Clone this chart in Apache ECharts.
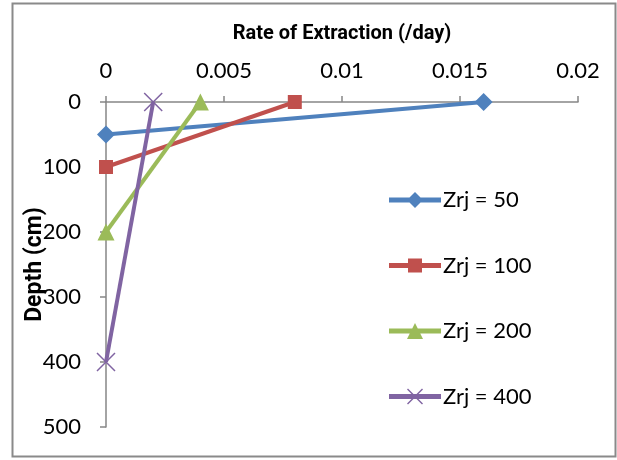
<!DOCTYPE html>
<html>
<head>
<meta charset="utf-8">
<script src="https://cdn.jsdelivr.net/npm/echarts@6/dist/echarts.min.js"></script>
<style>
  html, body { margin: 0; padding: 0; background: #fff; }
  #chart { width: 617px; height: 460px; }
</style>
</head>
<body>
<div id="chart"></div>
<script>
// Extraction rate (/day) at the surface and the root-zone depth (cm) for each Zrj
const seriesNames = ['Zrj = 50', 'Zrj = 100', 'Zrj = 200', 'Zrj = 400'];
const rates = [
  [0.016, 0],
  [0.008, 0],
  [0.004, 0],
  [0.002, 0]
];
const depths = [
  [0, 50],
  [0, 100],
  [0, 200],
  [0, 400]
];
const colors = ['#4F81BD', '#C0504D', '#9BBB59', '#8064A2'];
const symbols = ['diamond', 'rect', 'triangle', 'path://M0,0 L10,10 M10,0 L0,10'];
const symbolSizes = [18, 14, 17, 18];

// Legend keys: a thick 54x16 line with the series marker in the middle.
// The tiny corner subpaths pin the icon box to 54x16 so it is not stretched.
const keyBar = 'M1,5.5 L53,5.5 L53,10.5 L1,10.5 Z ';
const keyPins = 'M0,0 L0.01,0 L0,0.01 Z M54,16 L53.99,16 L54,15.99 Z ';
const legendIcons = [
  'path://' + keyPins + keyBar + 'M27,0 L35,8 L27,16 L19,8 Z',
  'path://' + keyPins + keyBar + 'M20,1 L34,1 L34,15 L20,15 Z',
  'path://' + keyPins + keyBar + 'M27,0 L35,16 L19,16 Z',
  'path://' + keyPins + keyBar + 'M19,1 L20,0 L35,15 L34,16 Z M34,0 L35,1 L20,16 L19,15 Z'
];

const font = 'Lato, "Open Sans", sans-serif';
const nameFont = 'Roboto, "Open Sans", sans-serif';
const axisGrey = '#868686';

const series = seriesNames.map((name, i) => {
  const isCross = i === 3;
  return {
    name: name,
    type: 'line',
    data: rates[i].map((r, k) => [r, depths[i][k]]),
    symbol: symbols[i],
    symbolSize: symbolSizes[i],
    showAllSymbol: true,
    lineStyle: { color: colors[i], width: 4 },
    itemStyle: isCross
      ? { color: 'none', borderColor: colors[i], borderWidth: 1.5 }
      : { color: colors[i], borderColor: colors[i], borderWidth: 0 },
    emphasis: { disabled: true },
    animation: false
  };
});

const chart = echarts.init(document.getElementById('chart'), null, { renderer: 'canvas' });
chart.setOption({
  backgroundColor: '#fff',
  animation: false,
  grid: { left: 106, right: 39, top: 102, bottom: 33, containLabel: false },
  xAxis: {
    type: 'value',
    position: 'top',
    min: 0,
    max: 0.02,
    interval: 0.005,
    name: 'Rate of Extraction (/day)',
    nameLocation: 'middle',
    nameGap: 58,
    nameTextStyle: { fontFamily: nameFont, fontSize: 20, fontWeight: 'bold', color: '#000' },
    axisLine: { show: true, lineStyle: { color: axisGrey, width: 1.5 } },
    axisTick: { show: true, inside: false, length: 6, lineStyle: { color: axisGrey, width: 1.5 } },
    axisLabel: { fontFamily: font, fontSize: 22, color: '#000', margin: 20 },
    splitLine: { show: false }
  },
  yAxis: {
    type: 'value',
    inverse: true,
    min: 0,
    max: 500,
    interval: 100,
    name: 'Depth (cm)',
    nameLocation: 'middle',
    nameRotate: 90,
    nameGap: 59,
    nameMoveOverlap: false,
    nameTextStyle: { fontFamily: nameFont, fontSize: 23, fontWeight: 'bold', color: '#000' },
    axisLine: { show: true, lineStyle: { color: axisGrey, width: 1.5 } },
    axisTick: { show: true, inside: false, length: 6, lineStyle: { color: axisGrey, width: 1.5 } },
    axisLabel: { fontFamily: font, fontSize: 22, color: '#000', margin: 25 },
    splitLine: { show: false }
  },
  legend: {
    orient: 'vertical',
    left: 383,
    top: 184,
    itemWidth: 54,
    itemHeight: 16,
    itemGap: 43.5,
    textStyle: { fontFamily: font, fontSize: 22, color: '#000', padding: [0, 0, 0, -4] },
    data: seriesNames.map((name, i) => ({
      name: name,
      icon: legendIcons[i],
      itemStyle: { color: colors[i], borderWidth: 0 }
    }))
  },
  graphic: [{
    type: 'rect',
    shape: { x: 12.5, y: 3.5, width: 603, height: 453 },
    style: { fill: 'none', stroke: '#8a8a8a', lineWidth: 2 },
    silent: true
  }],
  series: series
});
</script>
</body>
</html>
